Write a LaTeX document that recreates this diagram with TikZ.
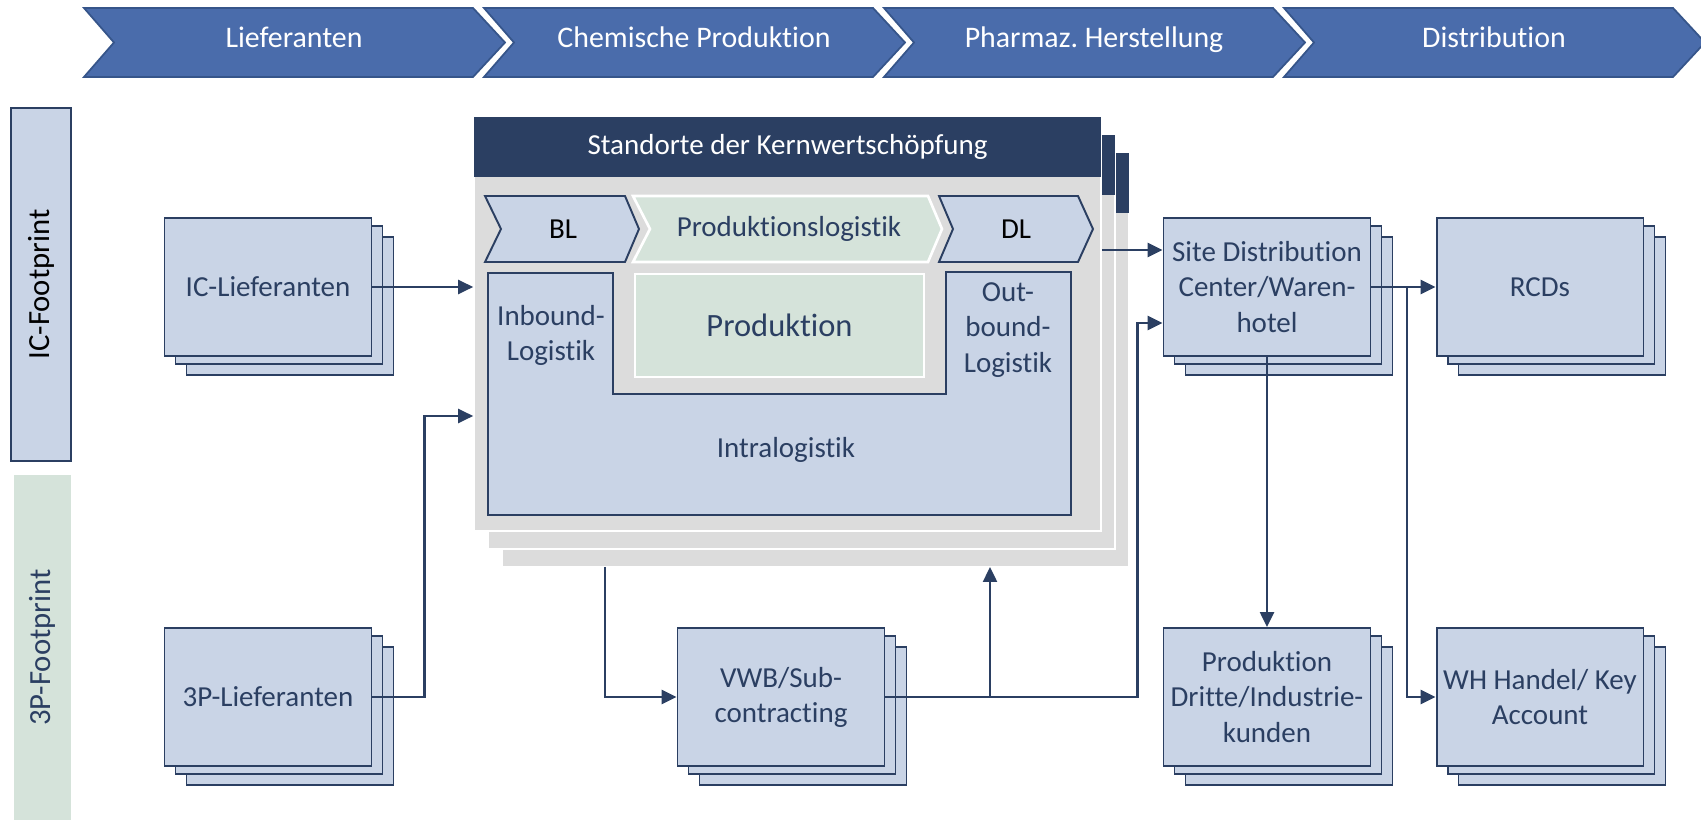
\documentclass[tikz,border=0pt]{standalone}
\usepackage{fontspec}
\setmainfont{Carlito}[Ligatures=NoCommon]
\usetikzlibrary{arrows.meta, calc, shadows}
\definecolor{dunkel}{HTML}{2B3F62}
\definecolor{stufenblau}{HTML}{4A6CAB}
\definecolor{stufenrand}{HTML}{36558A}
\definecolor{hellblau}{HTML}{C9D4E6}
\definecolor{hellgruen}{HTML}{D5E3DA}
\definecolor{grau}{HTML}{DCDCDC}
\frenchspacing

\begin{document}
\begin{tikzpicture}[x=0.02cm, y=-0.02cm,
  txt/.style={font=\fontsize{16.5}{20}\selectfont, align=center, text=dunkel},
  stapel/.style={txt, draw=dunkel, fill=hellblau, line width=1.1pt, inner sep=2pt,
                 minimum width=4.14cm, minimum height=2.76cm,
                 copy shadow={shadow xshift=0.44cm, shadow yshift=-0.38cm},
                 copy shadow={shadow xshift=0.22cm, shadow yshift=-0.16cm}},
  stufe/.style={fill=stufenblau, draw=stufenrand, line width=1pt},
  fluss/.style={-{Triangle[length=0.3cm, width=0.28cm]}, dunkel, line width=1.4pt}]

\useasboundingbox (0,0) rectangle (1701,820);

% Wertschoepfungskette oben
\foreach \i/\lbl/\nm in {0/Lieferanten/lief, 1/Chemische Produktion/chem,
                         2/Pharmaz. Herstellung/pharm, 3/Distribution/distr} {
  \pgfmathsetmacro\L{84+400*\i}
  \draw[stufe] (\L,8) -- (\L+389,8) -- (\L+421,42.5) -- (\L+389,77)
    -- (\L,77) -- (\L+30,42.5) -- cycle;
  \node[font=\fontsize{17}{20}\selectfont, text=white, text height=1.55ex, text depth=0.45ex]
    (\nm) at (\L+210,42.5) {\lbl};
}

% Footprint-Balken
\node[txt, text=black, draw=dunkel, fill=hellblau, line width=1.1pt, rotate=90,
      minimum width=7.06cm, minimum height=1.2cm, font=\fontsize{17.5}{20}\selectfont]
  (icfp) at (41,284.5) {IC-Footprint};
\node[txt, fill=hellgruen, rotate=90, minimum width=6.9cm, minimum height=1.14cm,
      font=\fontsize{17.5}{20}\selectfont]
  (tpfp) at (42.5,647.5) {3P-Footprint};

% Standorte der Kernwertschoepfung (gestapelt)
\foreach \dx/\dy in {28/36, 14/18} {
  \filldraw[fill=grau, draw=white, line width=1pt] (474+\dx,117+\dy) rectangle (1101+\dx,531+\dy);
  \fill[dunkel] (474+\dx,117+\dy) rectangle (1101+\dx,177+\dy);
}
\node[fill=grau, draw=white, line width=1pt, minimum width=12.54cm, minimum height=8.28cm]
  (kern) at (787.5,324) {};
\node[fill=dunkel, text=white, font=\fontsize{16.5}{20}\selectfont,
      minimum width=12.54cm, minimum height=1.2cm] (kopf) at (787.5,147)
  {Standorte der Kernwertschöpfung};

% BL / Produktionslogistik / DL
\draw[fill=hellblau, draw=dunkel, line width=1.1pt] (485,196) -- (625,196) -- (639,229)
  -- (625,262) -- (485,262) -- (501,229) -- cycle;
\node[txt, text=black] (bl) at (563,229) {BL};
\draw[fill=hellgruen, draw=white, line width=1.5pt] (633,196) -- (928,196) -- (942,229)
  -- (928,262) -- (633,262) -- (650,229) -- cycle;
\node[txt] (prodlog) at (789,229) {Produktionslogistik};
\draw[fill=hellblau, draw=dunkel, line width=1.1pt] (939,196) -- (1078,196) -- (1093,229)
  -- (1078,262) -- (939,262) -- (953,229) -- cycle;
\node[txt, text=black] (dl) at (1016,229) {DL};

% Intralogistik
\draw[fill=hellblau, draw=dunkel, line width=1.1pt] (488,273) -- (613,273) -- (613,394)
  -- (946,394) -- (946,272) -- (1071,272) -- (1071,515) -- (488,515) -- cycle;
\node[txt] (inbound) at (551,335) {Inbound-\\Logistik};
\node[txt] (outbound) at (1008,330) {Out-\\bound-\\Logistik};
\node[txt] (intra) at (786,450) {Intralogistik};
\node[txt, fill=hellgruen, draw=white, line width=1.5pt, font=\fontsize{18.5}{22}\selectfont,
      minimum width=5.78cm, minimum height=2.06cm] (prod) at (779.5,325.5) {Produktion};

% Partner
\node[stapel] (iclief) at (268,287) {IC-Lieferanten};
\node[stapel] (pplief) at (268,697) {3P-Lieferanten};
\node[stapel] (vwb) at (781,697) {VWB/Sub-\\contracting};
\node[stapel] (sdc) at (1267,287) {Site Distribution\\Center/Waren-\\hotel};
\node[stapel] (rcd) at (1540,287) {RCDs};
\node[stapel] (prodd) at (1267,697) {Produktion\\Dritte/Industrie-\\kunden};
\node[stapel] (whh) at (1540,697) {WH Handel/ Key\\Account};

\coordinate (vwbab) at (605,567);
\coordinate (vwbauf) at (990,567);
\coordinate (abzw) at (1407,287);

% Fluesse
\draw[fluss] (iclief.east) -- (iclief.east -| kern.west);
\draw[fluss] (pplief.east) -- ++(52,0) |- ($(kern.west)+(0,92)$);
\draw[fluss] ($(kern.east)+(0,-74)$) -- ($(sdc.west)+(0,-37)$);
\draw[fluss] (vwbab) |- (vwb.west);
\draw[fluss] (vwb.east) -| ($(sdc.west)+(-25,36)$) -- ($(sdc.west)+(0,36)$);
\draw[fluss] (vwb.east -| vwbauf) -- (vwbauf);
\draw[fluss] (sdc.east) -- (rcd.west);
\draw[fluss] (sdc.south) -- (prodd.north);
\draw[fluss] (abzw) |- (whh.west);

\end{tikzpicture}
\end{document}
